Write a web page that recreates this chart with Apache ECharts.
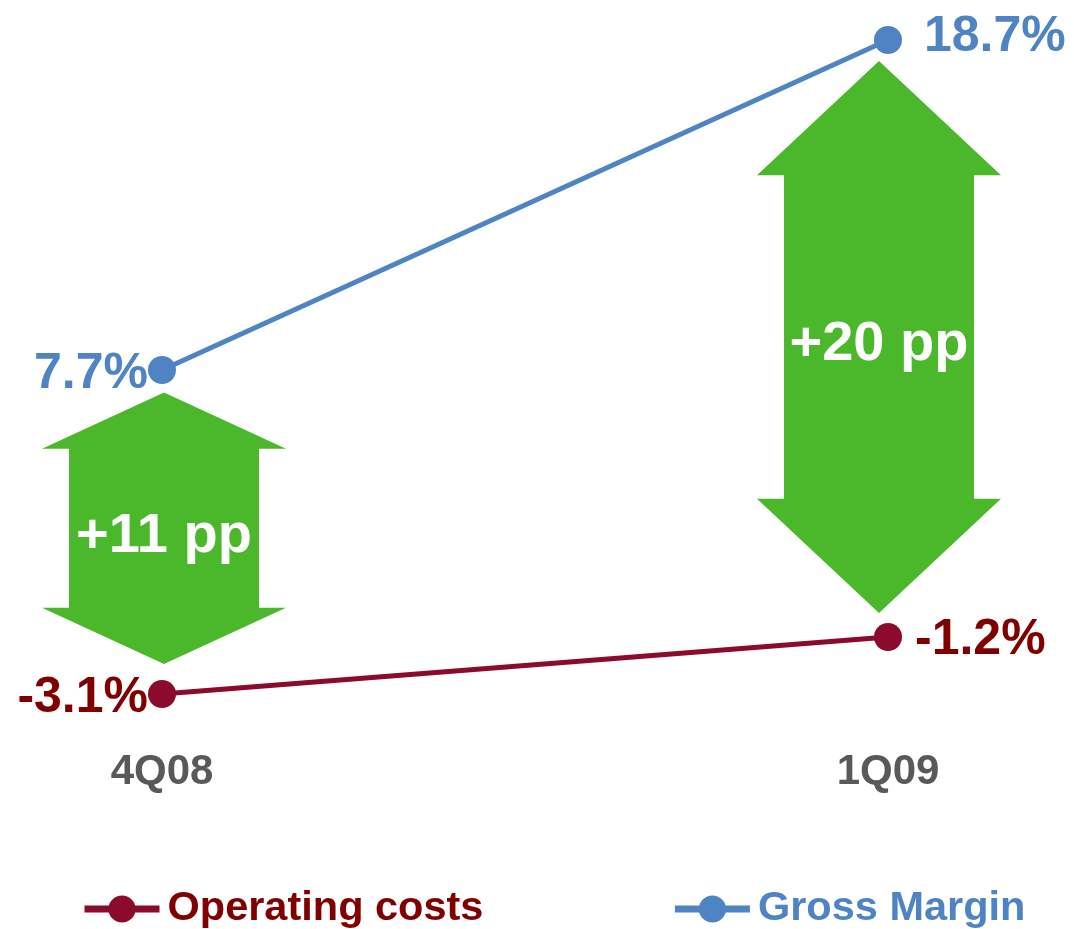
<!DOCTYPE html>
<html>
<head>
<meta charset="utf-8">
<title>Gross Margin vs Operating costs</title>
<script src="https://cdn.jsdelivr.net/npm/echarts@6/dist/echarts.min.js"></script>
<style>
  html, body { margin: 0; padding: 0; background: #fff; }
  #chart { width: 1074px; height: 929px; }
</style>
</head>
<body>
<div id="chart"></div>
<script>
// data
const quarters = ["4Q08", "1Q09"];
const grossMargin = [7.7, 18.7];
const operatingCosts = [-3.1, -1.2];
// double arrows between the two lines (top tip, bottom tip, in %)
const arrowTop = [6.95, 18.0];
const arrowBottom = [-2.1, -0.4];
const arrowText = ["+11 pp", "+20 pp"];

const FONT = "'Liberation Sans', Arial, sans-serif";
const BLUE = "#4F84C4";
const RED = "#8C0A2C";
const RED_TEXT = "#800000";
const GREEN = "#4AB82A";

// label placement per point (style only)
const gmLabel = [
  { position: "left", distance: 0, offset: [0, 4] },
  { position: "right", distance: 22, offset: [0, -3] },
];
const ocLabel = [
  { position: "left", distance: 0, offset: [0, 4] },
  { position: "right", distance: 13, offset: [0, 3] },
];
// small horizontal nudge of each arrow, px
const arrowShift = [2, -9];

const chart = echarts.init(document.getElementById("chart"));

function renderArrow(params, api) {
  const top = api.coord([api.value(0), api.value(1)]);
  const bot = api.coord([api.value(0), api.value(2)]);
  const cx = top[0] + arrowShift[params.dataIndex];
  const t = top[1];
  const b = bot[1];
  const head = (b - t) * 0.207;
  const hw = 122; // head half width
  const sw = 95; // shaft half width
  return {
    type: "group",
    children: [
      {
        type: "polygon",
        shape: {
          points: [
            [cx, t],
            [cx + hw, t + head],
            [cx + sw, t + head],
            [cx + sw, b - head],
            [cx + hw, b - head],
            [cx, b],
            [cx - hw, b - head],
            [cx - sw, b - head],
            [cx - sw, t + head],
            [cx - hw, t + head],
          ],
        },
        style: { fill: GREEN },
      },
      {
        type: "text",
        style: {
          text: arrowText[params.dataIndex],
          x: cx,
          y: (t + b) / 2 + 8,
          align: "center",
          verticalAlign: "middle",
          fill: "#fff",
          font: "bold 56px " + FONT,
        },
      },
    ],
  };
}

const option = {
  animation: false,
  backgroundColor: "#fff",
  grid: {
    left: 162,
    right: 186,
    top: 1,
    bottom: 178,
    containLabel: false,
    outerBoundsMode: "none",
  },
  legend: {
    left: 81,
    top: 886,
    padding: 0,
    itemWidth: 75,
    itemHeight: 34,
    itemGap: 188,
    lineStyle: { width: 7 },
    textStyle: {
      fontFamily: FONT,
      fontSize: 41.5,
      fontWeight: "bold",
      lineHeight: 46,
      padding: [0, 0, 0, 3],
    },
    data: [
      { name: "Operating costs", textStyle: { color: RED_TEXT } },
      { name: "Gross Margin", textStyle: { color: BLUE } },
    ],
  },
  xAxis: {
    type: "category",
    data: quarters,
    boundaryGap: false,
    axisLine: { show: false },
    axisTick: { show: false },
    splitLine: { show: false },
    axisLabel: {
      margin: 0,
      color: "#595959",
      fontFamily: FONT,
      fontSize: 42,
      fontWeight: "bold",
    },
  },
  yAxis: {
    type: "value",
    min: -5,
    max: 20,
    show: false,
    splitLine: { show: false },
  },
  series: [
    {
      name: "arrows",
      type: "custom",
      z: 1,
      renderItem: renderArrow,
      encode: { x: 0, y: [1, 2] },
      data: quarters.map((q, i) => [i, arrowTop[i], arrowBottom[i]]),
      silent: true,
    },
    {
      name: "Operating costs",
      type: "line",
      z: 3,
      symbol: "circle",
      symbolSize: 28,
      color: RED,
      lineStyle: { color: RED, width: 5 },
      itemStyle: { color: RED },
      label: {
        show: true,
        color: RED_TEXT,
        fontFamily: FONT,
        fontSize: 50,
        fontWeight: "bold",
        formatter: (p) => p.value.toFixed(1) + "%",
      },
      data: operatingCosts.map((v, i) => ({ value: v, label: ocLabel[i] })),
    },
    {
      name: "Gross Margin",
      type: "line",
      z: 3,
      symbol: "circle",
      symbolSize: 28,
      color: BLUE,
      lineStyle: { color: BLUE, width: 5 },
      itemStyle: { color: BLUE },
      label: {
        show: true,
        color: BLUE,
        fontFamily: FONT,
        fontSize: 50,
        fontWeight: "bold",
        formatter: (p) => p.value.toFixed(1) + "%",
      },
      data: grossMargin.map((v, i) => ({ value: v, label: gmLabel[i] })),
    },
  ],
};

chart.setOption(option);
</script>
</body>
</html>
